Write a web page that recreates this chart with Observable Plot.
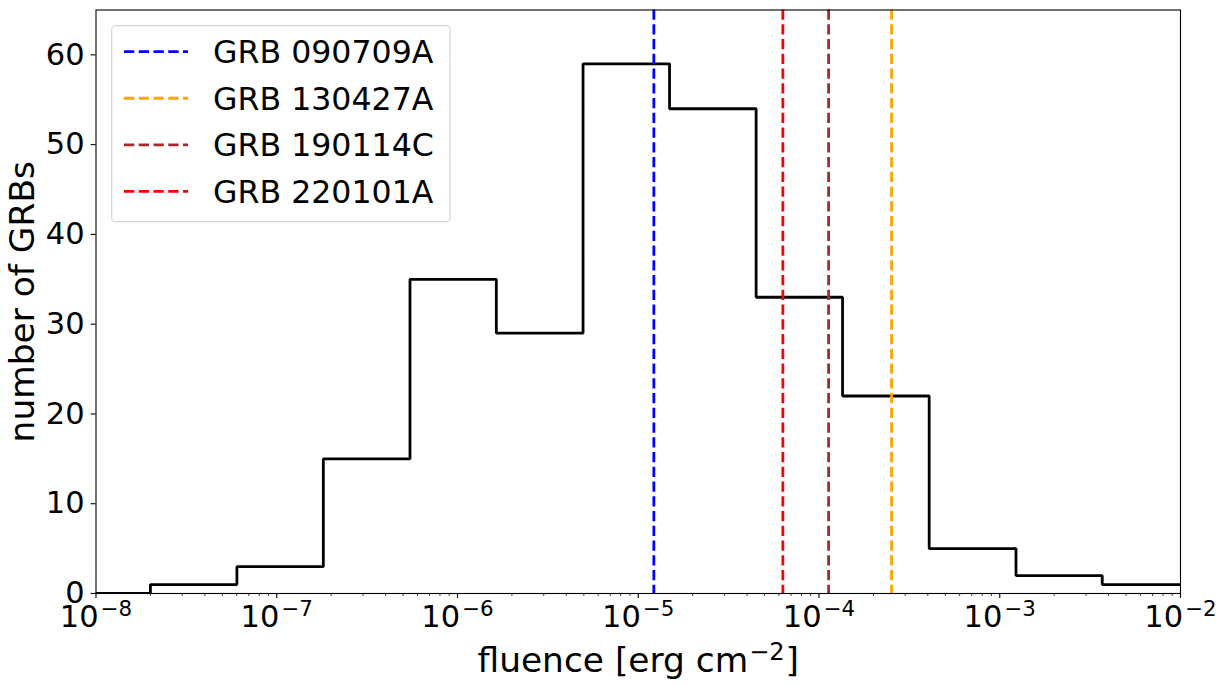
<!DOCTYPE html>
<html>
<head>
<meta charset="utf-8">
<script src="https://cdn.jsdelivr.net/npm/d3@7"></script>
<script src="https://cdn.jsdelivr.net/npm/@observablehq/plot@0.6"></script>
<style>
  html, body { margin: 0; padding: 0; background: #fff; }
  #wrap { position: relative; width: 1222px; height: 686px; font-family: "DejaVu Sans", sans-serif; }
  #legend { position: absolute; left: 0; top: 0; pointer-events: none; }
</style>
</head>
<body>
<div id="wrap"></div>
<script>
// ---- data ----
const binEdges = [6.64e-9, 2.00e-8, 6.02e-8, 1.81e-7, 5.46e-7, 1.64e-6, 4.95e-6, 1.49e-5, 4.49e-5, 1.35e-4, 4.07e-4, 1.23e-3, 3.69e-3, 1.11e-2];
const binCounts = [0, 1, 3, 15, 35, 29, 59, 54, 33, 22, 5, 2, 1];
const grbNames = ["GRB 090709A", "GRB 130427A", "GRB 190114C", "GRB 220101A"];
const grbFluence = [1.22e-5, 2.52e-4, 1.13e-4, 6.31e-5];
const grbColors = ["blue", "orange", "brown", "red"];
const xMajorTicks = [1e-8, 1e-7, 1e-6, 1e-5, 1e-4, 1e-3, 1e-2];
const xTickBase = "10";
const xTickExponents = ["−8", "−7", "−6", "−5", "−4", "−3", "−2"];
const yTicks = [0, 10, 20, 30, 40, 50, 60];
const xLabelMain = "fluence [erg cm";
const xLabelSup = "−2";
const xLabelEnd = "]";
const yLabel = "number of GRBs";

// ---- derived tables ----
const stepPts = [{x: binEdges[0], y: 0}];
binCounts.forEach((c, i) => {
  stepPts.push({x: binEdges[i], y: c});
  stepPts.push({x: binEdges[i + 1], y: c});
});
stepPts.push({x: binEdges[binEdges.length - 1], y: 0});

const grbs = grbNames.map((name, i) => ({name, fluence: grbFluence[i], color: grbColors[i]}));

const minorTicks = [];
for (let k = 0; k < xMajorTicks.length - 1; k++) {
  for (let m = 2; m <= 9; m++) minorTicks.push(m * xMajorTicks[k]);
}
const xTickData = xMajorTicks.map((v, i) => ({v, label: xTickBase + xTickExponents[i]}));

const W = 1222, H = 686;
const mL = 95.5, mR = 42, mT = 9.5, mB = 93;
const dash = "10.3,4.45";
const labelSize = 34.4;

const chart = Plot.plot({
  width: W,
  height: H,
  marginLeft: mL,
  marginRight: mR,
  marginTop: mT,
  marginBottom: mB,
  style: {fontFamily: "DejaVu Sans", fontSize: "30px", background: "white", color: "black"},
  x: {type: "log", domain: [1e-8, 1e-2]},
  y: {domain: [0, 65]},
  color: {type: "identity"},
  marks: [
    Plot.line(stepPts, {x: "x", y: "y", stroke: "black", strokeWidth: 2.78, clip: true, strokeLinejoin: "miter", strokeLinecap: "butt"}),
    Plot.ruleX(grbs, {x: "fluence", stroke: "color", strokeWidth: 2.78, strokeDasharray: dash}),
    Plot.frame({stroke: "black", strokeWidth: 1.1}),
    Plot.axisX({ticks: minorTicks, tickSize: 2.8, strokeWidth: 0.83, tickFormat: () => "", label: null}),
    Plot.axisX({ticks: xMajorTicks, tickSize: 4.9, strokeWidth: 1.1, tickFormat: () => "", label: null}),
    Plot.axisY({ticks: yTicks, tickSize: 4.9, strokeWidth: 1.1, tickPadding: 6.5, fontSize: 30.5, tickFormat: d => String(d), label: null}),
    Plot.text(xTickData, {x: "v", text: "label", frameAnchor: "bottom", dy: 33, lineAnchor: "bottom", textAnchor: "middle", fontSize: 30.5, fill: "black"}),
    Plot.text([xLabelMain + xLabelSup + xLabelEnd], {frameAnchor: "bottom", dy: 78.5, lineAnchor: "bottom", textAnchor: "middle", fontSize: labelSize, fill: "black"}),
    Plot.text([yLabel], {frameAnchor: "left", dx: -62.5, rotate: -90, lineAnchor: "bottom", textAnchor: "middle", fontSize: labelSize, fill: "black"})
  ]
});

const wrap = document.getElementById("wrap");
wrap.appendChild(chart);

// superscripts: rebuild matching text elements with tspans
const tickLabelSet = new Map(xTickData.map((d, i) => [d.label, i]));
const fullXLabel = xLabelMain + xLabelSup + xLabelEnd;
d3.select(chart).selectAll("text").each(function() {
  const t = d3.select(this);
  const s = this.textContent;
  if (tickLabelSet.has(s)) {
    const i = tickLabelSet.get(s);
    t.text(null);
    t.append("tspan").text(xTickBase);
    t.append("tspan").attr("font-size", 21.4).attr("dy", -11).attr("dx", 2).text(xTickExponents[i]);
  } else if (s === fullXLabel) {
    t.text(null);
    t.append("tspan").text(xLabelMain);
    t.append("tspan").attr("font-size", 24).attr("dy", -12.5).attr("dx", 1).text(xLabelSup);
    t.append("tspan").attr("dy", 12.5).attr("dx", 1).text(xLabelEnd);
  }
});

// legend overlay (inside axes, upper left)
const lg = d3.select(wrap).append("svg").attr("id", "legend").attr("width", W).attr("height", H);
const box = {x: 111.7, y: 25.7, w: 338.3, h: 196};
lg.append("rect").attr("x", box.x).attr("y", box.y).attr("width", box.w).attr("height", box.h)
  .attr("rx", 4).attr("ry", 4).attr("fill", "rgba(255,255,255,0.8)").attr("stroke", "#d6d6d6").attr("stroke-width", 1.2);
const rowY0 = 51.7, rowStep = 46.55;
grbs.forEach((g, i) => {
  const cy = rowY0 + i * rowStep;
  lg.append("line").attr("x1", 124).attr("x2", 188).attr("y1", cy).attr("y2", cy)
    .attr("stroke", g.color).attr("stroke-width", 2.78).attr("stroke-dasharray", dash);
  lg.append("text").attr("x", 213).attr("y", cy + 11.3).attr("font-family", "DejaVu Sans").attr("font-size", 31.6)
    .attr("fill", "black").text(g.name);
});
</script>
</body>
</html>
